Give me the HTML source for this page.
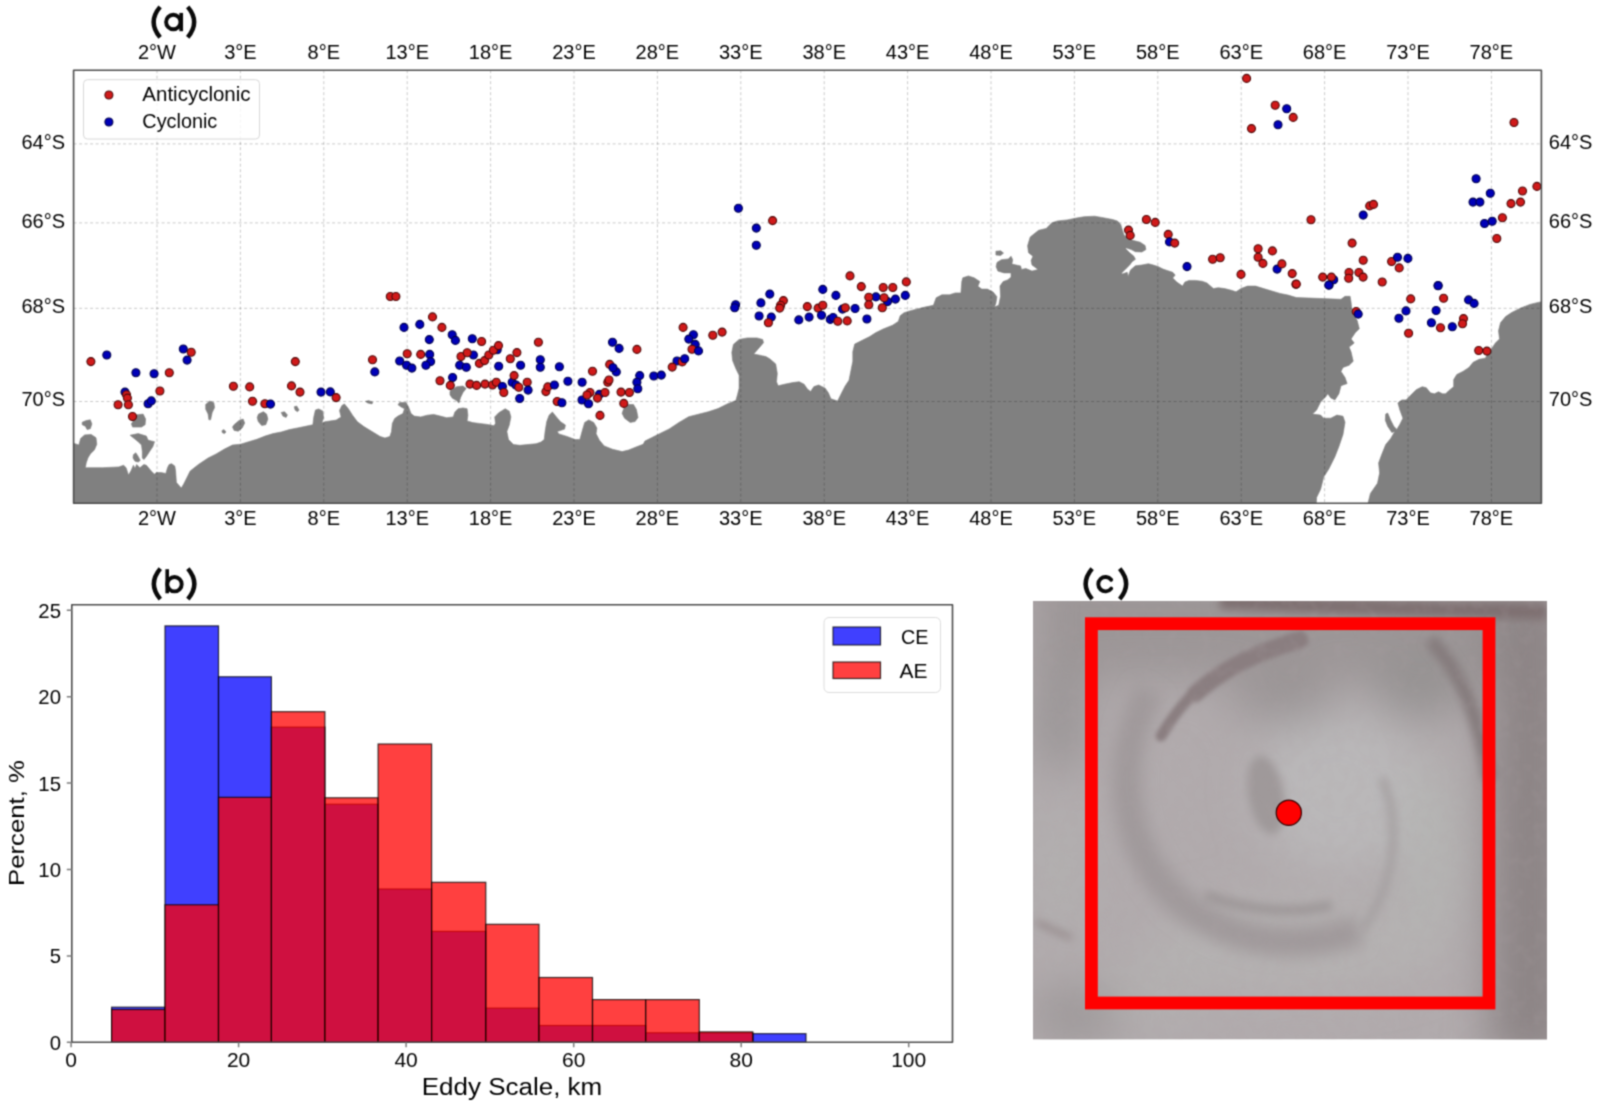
<!DOCTYPE html><html><head><meta charset="utf-8"><style>html,body{margin:0;padding:0;background:#fff;overflow:hidden}svg{display:block}text{font-family:"Liberation Sans",sans-serif;fill:#000}.b{font-weight:bold;fill:#111}</style></head><body>
<div id="w"><svg width="1600" height="1107" viewBox="0 0 1600 1107">
<defs><clipPath id="mc"><rect x="73.6" y="70.2" width="1467.8" height="433.1"/></clipPath>
<filter id="soft" filterUnits="userSpaceOnUse" x="0" y="0" width="1600" height="1107" color-interpolation-filters="sRGB"><feConvolveMatrix order="3" edgeMode="duplicate" kernelMatrix="0.04387 0.12171 0.04387 0.12171 0.33767 0.12171 0.04387 0.12171 0.04387"/></filter>
<clipPath id="cc"><rect x="1033" y="601" width="514" height="438.5"/></clipPath></defs>
<g filter="url(#soft)"><rect x="0" y="0" width="1600" height="1107" fill="#fff"/>
<g clip-path="url(#mc)">
<path d="M73.6 503.5 L73.6 443.4 L74.1 443.4 L78.9 445.0 L80.6 438.5 L84.6 434.9 L91.1 434.4 L96.0 437.7 L96.8 444.2 L94.4 449.9 L90.3 453.9 L87.9 458.0 L86.2 462.9 L85.4 467.7 L102.5 467.7 L118.7 466.9 L123.6 465.3 L126.1 467.7 L128.5 475.1 L130.9 471.0 L133.4 465.3 L135.0 468.6 L136.6 464.5 L139.9 467.7 L143.9 464.5 L146.4 465.3 L151.2 471.0 L154.5 474.2 L156.1 472.6 L161.0 472.6 L165.9 473.4 L167.5 467.7 L169.1 464.5 L171.6 463.7 L174.8 466.1 L175.6 471.0 L176.4 482.4 L181.3 488.1 L183.7 484.0 L190.2 471.0 L198.4 464.5 L208.1 458.0 L216.2 453.9 L224.4 449.1 L232.5 445.0 L240.6 444.2 L248.7 441.7 L256.9 439.3 L265.0 436.1 L273.1 433.6 L281.2 432.0 L289.4 429.6 L297.5 427.9 L305.6 426.3 L312.9 424.7 L313.7 417.4 L315.4 410.1 L318.6 408.9 L322.7 410.9 L323.5 417.4 L321.9 423.1 L324.9 421.7 L336.2 420.1 L341.1 416.9 L339.5 410.4 L341.9 405.5 L344.4 403.9 L348.4 408.7 L352.5 415.2 L357.4 421.7 L363.9 426.6 L372.0 431.5 L380.1 436.4 L385.0 438.0 L389.9 436.4 L391.5 431.5 L392.3 423.4 L394.7 418.5 L398.0 416.1 L402.9 413.6 L404.5 408.7 L401.2 407.1 L398.0 404.7 L399.6 402.6 L406.1 402.6 L408.6 407.1 L411.0 413.6 L414.2 416.1 L420.7 416.9 L427.2 415.2 L433.7 414.4 L440.2 416.1 L446.7 417.7 L453.2 416.9 L454.9 412.0 L458.1 408.7 L463.0 407.9 L467.1 408.7 L467.9 415.2 L467.1 420.9 L472.7 422.6 L479.2 423.4 L485.7 424.2 L490.6 425.0 L493.9 425.8 L495.5 423.4 L494.7 416.9 L498.7 412.8 L505.2 408.7 L509.3 411.2 L510.9 416.9 L509.3 425.0 L506.9 431.5 L508.5 439.6 L513.4 444.5 L519.9 445.3 L528.0 444.5 L536.1 443.7 L541.0 442.1 L544.2 439.6 L545.1 431.5 L546.7 421.7 L549.1 415.2 L552.4 412.0 L556.4 416.9 L560.5 421.7 L565.4 425.0 L564.6 429.1 L557.2 431.5 L558.9 433.9 L567.0 436.4 L575.1 439.6 L579.9 439.4 L582.3 430.5 L584.7 422.4 L588.8 419.9 L593.7 422.4 L596.9 428.1 L596.1 433.7 L599.4 440.2 L604.2 445.9 L612.4 449.2 L622.1 451.6 L628.6 450.0 L636.7 446.7 L643.2 444.3 L644.9 441.1 L651.4 437.8 L659.5 433.7 L669.2 428.9 L679.0 422.4 L688.7 416.7 L698.5 414.2 L708.2 411.8 L718.0 408.6 L727.7 403.7 L735.9 400.4 L737.5 394.7 L739.1 388.2 L739.1 375.2 L735.9 368.7 L732.6 360.6 L731.8 352.5 L733.4 344.4 L739.1 339.5 L747.2 337.9 L757.0 337.9 L762.7 339.5 L763.5 342.7 L758.6 348.4 L753.7 354.1 L758.6 354.9 L765.9 356.6 L770.0 359.0 L775.7 363.9 L777.3 373.6 L776.5 381.7 L778.1 385.8 L784.6 384.2 L792.7 382.6 L799.2 381.7 L804.1 384.2 L807.4 389.1 L810.6 391.5 L813.9 386.6 L818.7 385.0 L825.2 388.2 L828.5 393.1 L830.9 398.8 L837.6 401.0 L842.3 391.5 L845.2 385.9 L849.0 380.2 L850.9 370.7 L852.8 361.2 L852.8 351.7 L854.7 344.1 L862.2 340.3 L869.8 336.5 L875.5 332.8 L883.1 329.0 L892.6 325.2 L898.3 321.4 L900.2 315.7 L904.0 312.8 L909.7 310.9 L917.2 309.0 L924.8 307.1 L933.4 305.3 L936.2 297.7 L941.9 294.8 L949.5 294.8 L955.2 292.9 L960.9 292.9 L961.8 281.5 L962.8 277.8 L968.4 275.9 L974.1 277.8 L979.8 281.5 L977.9 286.3 L981.7 289.1 L987.4 289.1 L993.1 292.0 L996.9 296.7 L995.9 303.4 L995.9 303.4 L994.4 307.0 L998.7 305.2 L1000.5 296.5 L1000.0 286.0 L1003.1 281.6 L1007.5 279.9 L1011.0 277.2 L1011.0 272.9 L1004.0 272.9 L997.9 271.1 L996.1 266.7 L997.0 262.4 L1001.4 259.7 L1008.4 258.9 L1011.0 256.2 L1012.7 259.7 L1011.9 264.1 L1016.2 265.0 L1020.6 265.9 L1021.5 269.4 L1025.9 268.5 L1032.0 271.1 L1038.1 269.4 L1032.0 265.0 L1031.1 260.6 L1032.9 256.2 L1028.5 252.7 L1027.6 245.7 L1030.2 237.0 L1038.6 230.3 L1046.2 228.4 L1051.9 222.8 L1057.6 220.9 L1067.1 219.9 L1076.5 218.0 L1084.1 216.7 L1094.7 216.2 L1104.5 217.9 L1112.6 219.5 L1117.5 221.1 L1120.7 224.4 L1122.4 230.1 L1124.0 234.9 L1128.1 239.0 L1133.7 240.6 L1140.2 242.2 L1145.1 245.5 L1145.9 249.6 L1141.9 252.0 L1135.4 251.7 L1131.3 249.6 L1126.4 247.9 L1125.6 248.7 L1129.7 252.8 L1133.7 256.1 L1135.4 259.3 L1132.1 261.7 L1129.7 265.0 L1126.4 268.2 L1121.6 273.1 L1122.4 273.9 L1127.2 272.3 L1128.1 276.4 L1130.5 269.9 L1135.4 265.8 L1141.9 265.0 L1148.4 263.7 L1153.2 265.0 L1158.1 266.6 L1163.0 269.1 L1167.9 270.7 L1172.7 272.3 L1175.2 275.1 L1172.7 278.0 L1176.8 282.1 L1182.5 286.1 L1184.9 282.1 L1189.0 280.4 L1195.5 280.4 L1202.0 281.2 L1206.9 282.9 L1213.4 288.6 L1218.2 287.7 L1224.7 288.6 L1231.2 290.2 L1236.1 291.8 L1241.0 288.6 L1247.5 286.1 L1255.6 286.1 L1263.7 288.6 L1271.9 291.0 L1280.0 293.4 L1288.1 295.1 L1296.2 297.5 L1341.0 299.3 L1345.0 296.3 L1350.1 296.3 L1351.1 302.4 L1352.1 312.5 L1357.2 320.6 L1359.3 328.8 L1355.2 332.8 L1351.1 338.9 L1354.2 343.0 L1349.1 347.1 L1351.1 352.1 L1353.2 361.3 L1349.1 365.3 L1343.0 367.4 L1341.0 371.4 L1345.0 377.5 L1347.1 383.6 L1341.0 385.7 L1338.9 393.8 L1334.9 399.9 L1330.8 397.9 L1327.8 393.8 L1325.7 396.8 L1320.6 401.9 L1316.6 410.1 L1312.5 414.1 L1320.6 415.1 L1323.7 418.2 L1330.8 418.2 L1336.9 415.1 L1343.0 416.2 L1345.0 422.2 L1343.0 434.4 L1338.9 446.6 L1334.9 456.8 L1328.8 469.0 L1323.7 477.1 L1320.6 489.3 L1316.6 497.4 L1316.2 505.6 Z M1367.4 505.6 L1370.4 493.4 L1377.5 483.2 L1379.6 473.1 L1378.6 462.9 L1381.6 454.8 L1385.7 444.6 L1390.7 438.5 L1394.8 431.4 L1391.8 432.4 L1387.7 426.3 L1385.3 420.2 L1385.7 414.1 L1387.7 413.1 L1390.7 420.2 L1393.8 426.3 L1396.8 429.4 L1399.9 424.3 L1402.9 418.2 L1399.9 410.1 L1397.9 402.9 L1401.9 399.9 L1406.0 399.9 L1412.1 393.8 L1416.2 389.7 L1422.2 386.7 L1426.3 387.7 L1430.4 392.8 L1434.4 393.8 L1438.5 391.8 L1442.6 393.8 L1445.6 393.8 L1448.7 390.7 L1453.7 386.7 L1453.7 379.6 L1456.8 374.5 L1462.9 371.4 L1469.0 367.4 L1473.1 362.3 L1479.1 359.3 L1485.2 358.2 L1491.3 349.1 L1495.4 343.0 L1499.5 338.9 L1498.5 330.8 L1500.5 322.7 L1505.6 316.6 L1511.7 312.5 L1519.8 308.4 L1529.9 304.4 L1538.1 302.4 L1544.2 301.3 L1541.4 301.0 L1541.4 503.5 Z M82.2 422.2 L86.2 420.6 L90.3 419.8 L91.9 423.9 L90.3 428.7 L87.1 429.6 L85.4 426.3 L82.2 424.7 Z M135.8 414.9 L143.1 414.1 L145.6 419.0 L145.1 424.7 L141.5 427.1 L132.6 427.1 L131.4 423.9 L134.2 419.0 Z M130.1 435.2 L138.2 433.6 L146.4 436.1 L148.0 440.1 L151.2 440.9 L154.5 441.7 L152.9 446.6 L149.6 451.5 L146.4 456.4 L143.9 459.6 L142.3 458.0 L142.3 451.5 L141.5 445.0 L138.2 441.7 L134.2 438.5 Z M133.4 454.7 L135.8 452.8 L138.2 456.4 L140.2 460.4 L138.2 462.1 L135.0 461.2 L133.0 458.0 Z M205.7 404.4 L209.7 401.1 L213.8 402.7 L214.6 407.6 L212.2 412.5 L210.6 419.8 L208.9 419.8 L208.1 414.1 L205.7 409.2 Z M221.9 430.7 L224.0 429.6 L226.0 432.0 L224.4 433.6 L222.4 432.8 Z M234.1 424.7 L239.0 420.6 L243.1 419.0 L244.7 423.1 L242.2 427.9 L238.2 431.2 L234.1 430.4 L232.5 427.1 Z M258.5 414.1 L263.4 411.7 L266.6 414.1 L267.9 419.0 L265.8 424.7 L261.7 425.5 L258.2 421.4 L257.2 417.4 Z M281.2 412.5 L284.5 411.7 L287.4 414.9 L286.1 417.4 L282.9 416.1 Z M294.2 406.8 L296.7 406.0 L299.1 410.1 L297.5 411.7 L295.1 410.1 Z M365.5 401.4 L368.7 400.6 L372.8 402.2 L372.0 403.9 L367.9 403.1 Z M450.0 390.9 L456.5 386.8 L463.0 386.0 L466.2 388.4 L463.0 392.5 L460.6 397.4 L458.9 403.1 L456.5 400.6 L452.4 398.2 L450.0 394.9 Z M623.7 408.6 L628.6 404.5 L633.5 404.5 L636.4 409.4 L638.0 417.5 L635.1 421.6 L630.2 422.4 L624.6 418.3 L622.1 413.4 Z M995.9 251.2 L1000.7 250.8 L1003.5 253.1 L1000.7 255.4 L995.9 255.0 Z" fill="#808080" stroke="#808080" stroke-width="0.6" stroke-linejoin="round"/>
<path d="M157.0 70.2 V503.3 M240.4 70.2 V503.3 M323.8 70.2 V503.3 M407.2 70.2 V503.3 M490.6 70.2 V503.3 M574.0 70.2 V503.3 M657.4 70.2 V503.3 M740.8 70.2 V503.3 M824.2 70.2 V503.3 M907.6 70.2 V503.3 M991.0 70.2 V503.3 M1074.4 70.2 V503.3 M1157.8 70.2 V503.3 M1241.2 70.2 V503.3 M1324.6 70.2 V503.3 M1408.0 70.2 V503.3 M1491.4 70.2 V503.3 M73.6 143.9 H1541.4 M73.6 222.9 H1541.4 M73.6 308.3 H1541.4 M73.6 401.5 H1541.4" stroke="#000" stroke-opacity="0.21" stroke-width="1" stroke-dasharray="3 2.5" fill="none"/>
<circle cx="90.9" cy="361.6" r="4" fill="#d01a1a" stroke="#4a0a0a" stroke-width="1.1"/>
<circle cx="106.8" cy="355.0" r="4" fill="#0000b8" stroke="#00004a" stroke-width="1.1"/>
<circle cx="135.9" cy="372.8" r="4" fill="#0000b8" stroke="#00004a" stroke-width="1.1"/>
<circle cx="154.1" cy="373.8" r="4" fill="#0000b8" stroke="#00004a" stroke-width="1.1"/>
<circle cx="169.3" cy="372.8" r="4" fill="#d01a1a" stroke="#4a0a0a" stroke-width="1.1"/>
<circle cx="183.3" cy="349.0" r="4" fill="#0000b8" stroke="#00004a" stroke-width="1.1"/>
<circle cx="191.2" cy="352.2" r="4" fill="#d01a1a" stroke="#4a0a0a" stroke-width="1.1"/>
<circle cx="187.1" cy="360.1" r="4" fill="#0000b8" stroke="#00004a" stroke-width="1.1"/>
<circle cx="159.9" cy="391.0" r="4" fill="#d01a1a" stroke="#4a0a0a" stroke-width="1.1"/>
<circle cx="125.0" cy="392.1" r="4" fill="#0000b8" stroke="#00004a" stroke-width="1.1"/>
<circle cx="126.5" cy="394.8" r="4" fill="#d01a1a" stroke="#4a0a0a" stroke-width="1.1"/>
<circle cx="127.4" cy="398.1" r="4" fill="#d01a1a" stroke="#4a0a0a" stroke-width="1.1"/>
<circle cx="128.4" cy="404.7" r="4" fill="#d01a1a" stroke="#4a0a0a" stroke-width="1.1"/>
<circle cx="118.1" cy="404.7" r="4" fill="#d01a1a" stroke="#4a0a0a" stroke-width="1.1"/>
<circle cx="132.5" cy="416.5" r="4" fill="#d01a1a" stroke="#4a0a0a" stroke-width="1.1"/>
<circle cx="148.1" cy="403.8" r="4" fill="#0000b8" stroke="#00004a" stroke-width="1.1"/>
<circle cx="151.3" cy="400.9" r="4" fill="#0000b8" stroke="#00004a" stroke-width="1.1"/>
<circle cx="233.4" cy="386.3" r="4" fill="#d01a1a" stroke="#4a0a0a" stroke-width="1.1"/>
<circle cx="249.7" cy="386.9" r="4" fill="#d01a1a" stroke="#4a0a0a" stroke-width="1.1"/>
<circle cx="252.5" cy="401.3" r="4" fill="#d01a1a" stroke="#4a0a0a" stroke-width="1.1"/>
<circle cx="264.9" cy="403.8" r="4" fill="#d01a1a" stroke="#4a0a0a" stroke-width="1.1"/>
<circle cx="270.5" cy="404.1" r="4" fill="#0000b8" stroke="#00004a" stroke-width="1.1"/>
<circle cx="295.3" cy="361.6" r="4" fill="#d01a1a" stroke="#4a0a0a" stroke-width="1.1"/>
<circle cx="291.5" cy="385.9" r="4" fill="#d01a1a" stroke="#4a0a0a" stroke-width="1.1"/>
<circle cx="300.0" cy="392.1" r="4" fill="#d01a1a" stroke="#4a0a0a" stroke-width="1.1"/>
<circle cx="321.0" cy="392.1" r="4" fill="#0000b8" stroke="#00004a" stroke-width="1.1"/>
<circle cx="330.3" cy="391.9" r="4" fill="#0000b8" stroke="#00004a" stroke-width="1.1"/>
<circle cx="336.1" cy="397.6" r="4" fill="#d01a1a" stroke="#4a0a0a" stroke-width="1.1"/>
<circle cx="390.3" cy="296.5" r="4" fill="#d01a1a" stroke="#4a0a0a" stroke-width="1.1"/>
<circle cx="395.9" cy="296.5" r="4" fill="#d01a1a" stroke="#4a0a0a" stroke-width="1.1"/>
<circle cx="372.5" cy="359.7" r="4" fill="#d01a1a" stroke="#4a0a0a" stroke-width="1.1"/>
<circle cx="374.8" cy="371.9" r="4" fill="#0000b8" stroke="#00004a" stroke-width="1.1"/>
<circle cx="404.0" cy="327.4" r="4" fill="#0000b8" stroke="#00004a" stroke-width="1.1"/>
<circle cx="419.8" cy="324.4" r="4" fill="#0000b8" stroke="#00004a" stroke-width="1.1"/>
<circle cx="432.5" cy="316.9" r="4" fill="#d01a1a" stroke="#4a0a0a" stroke-width="1.1"/>
<circle cx="441.9" cy="327.4" r="4" fill="#d01a1a" stroke="#4a0a0a" stroke-width="1.1"/>
<circle cx="429.3" cy="339.6" r="4" fill="#0000b8" stroke="#00004a" stroke-width="1.1"/>
<circle cx="452.2" cy="334.8" r="4" fill="#0000b8" stroke="#00004a" stroke-width="1.1"/>
<circle cx="455.4" cy="340.4" r="4" fill="#0000b8" stroke="#00004a" stroke-width="1.1"/>
<circle cx="472.3" cy="338.7" r="4" fill="#0000b8" stroke="#00004a" stroke-width="1.1"/>
<circle cx="481.6" cy="341.5" r="4" fill="#d01a1a" stroke="#4a0a0a" stroke-width="1.1"/>
<circle cx="407.2" cy="353.7" r="4" fill="#d01a1a" stroke="#4a0a0a" stroke-width="1.1"/>
<circle cx="420.7" cy="354.4" r="4" fill="#d01a1a" stroke="#4a0a0a" stroke-width="1.1"/>
<circle cx="429.7" cy="354.4" r="4" fill="#0000b8" stroke="#00004a" stroke-width="1.1"/>
<circle cx="430.6" cy="361.6" r="4" fill="#0000b8" stroke="#00004a" stroke-width="1.1"/>
<circle cx="425.9" cy="365.3" r="4" fill="#0000b8" stroke="#00004a" stroke-width="1.1"/>
<circle cx="399.7" cy="361.0" r="4" fill="#0000b8" stroke="#00004a" stroke-width="1.1"/>
<circle cx="406.6" cy="365.3" r="4" fill="#0000b8" stroke="#00004a" stroke-width="1.1"/>
<circle cx="411.9" cy="368.1" r="4" fill="#0000b8" stroke="#00004a" stroke-width="1.1"/>
<circle cx="473.4" cy="355.0" r="4" fill="#0000b8" stroke="#00004a" stroke-width="1.1"/>
<circle cx="461.0" cy="356.5" r="4" fill="#d01a1a" stroke="#4a0a0a" stroke-width="1.1"/>
<circle cx="467.2" cy="352.8" r="4" fill="#d01a1a" stroke="#4a0a0a" stroke-width="1.1"/>
<circle cx="459.7" cy="365.3" r="4" fill="#0000b8" stroke="#00004a" stroke-width="1.1"/>
<circle cx="466.3" cy="367.2" r="4" fill="#0000b8" stroke="#00004a" stroke-width="1.1"/>
<circle cx="497.2" cy="349.8" r="4" fill="#0000b8" stroke="#00004a" stroke-width="1.1"/>
<circle cx="479.4" cy="363.4" r="4" fill="#d01a1a" stroke="#4a0a0a" stroke-width="1.1"/>
<circle cx="484.6" cy="360.6" r="4" fill="#d01a1a" stroke="#4a0a0a" stroke-width="1.1"/>
<circle cx="488.8" cy="355.0" r="4" fill="#d01a1a" stroke="#4a0a0a" stroke-width="1.1"/>
<circle cx="493.4" cy="350.3" r="4" fill="#d01a1a" stroke="#4a0a0a" stroke-width="1.1"/>
<circle cx="498.5" cy="345.6" r="4" fill="#d01a1a" stroke="#4a0a0a" stroke-width="1.1"/>
<circle cx="498.7" cy="366.3" r="4" fill="#0000b8" stroke="#00004a" stroke-width="1.1"/>
<circle cx="510.3" cy="358.8" r="4" fill="#d01a1a" stroke="#4a0a0a" stroke-width="1.1"/>
<circle cx="516.9" cy="352.6" r="4" fill="#d01a1a" stroke="#4a0a0a" stroke-width="1.1"/>
<circle cx="520.6" cy="365.3" r="4" fill="#0000b8" stroke="#00004a" stroke-width="1.1"/>
<circle cx="538.4" cy="342.3" r="4" fill="#d01a1a" stroke="#4a0a0a" stroke-width="1.1"/>
<circle cx="540.3" cy="359.7" r="4" fill="#0000b8" stroke="#00004a" stroke-width="1.1"/>
<circle cx="540.3" cy="367.2" r="4" fill="#0000b8" stroke="#00004a" stroke-width="1.1"/>
<circle cx="559.4" cy="366.8" r="4" fill="#0000b8" stroke="#00004a" stroke-width="1.1"/>
<circle cx="612.5" cy="342.3" r="4" fill="#0000b8" stroke="#00004a" stroke-width="1.1"/>
<circle cx="619.1" cy="348.4" r="4" fill="#0000b8" stroke="#00004a" stroke-width="1.1"/>
<circle cx="636.9" cy="349.4" r="4" fill="#d01a1a" stroke="#4a0a0a" stroke-width="1.1"/>
<circle cx="440.0" cy="380.7" r="4" fill="#d01a1a" stroke="#4a0a0a" stroke-width="1.1"/>
<circle cx="452.6" cy="377.5" r="4" fill="#0000b8" stroke="#00004a" stroke-width="1.1"/>
<circle cx="450.3" cy="385.4" r="4" fill="#d01a1a" stroke="#4a0a0a" stroke-width="1.1"/>
<circle cx="470.0" cy="384.1" r="4" fill="#d01a1a" stroke="#4a0a0a" stroke-width="1.1"/>
<circle cx="476.6" cy="385.4" r="4" fill="#d01a1a" stroke="#4a0a0a" stroke-width="1.1"/>
<circle cx="485.0" cy="384.1" r="4" fill="#d01a1a" stroke="#4a0a0a" stroke-width="1.1"/>
<circle cx="492.5" cy="385.0" r="4" fill="#d01a1a" stroke="#4a0a0a" stroke-width="1.1"/>
<circle cx="496.3" cy="382.2" r="4" fill="#d01a1a" stroke="#4a0a0a" stroke-width="1.1"/>
<circle cx="502.4" cy="386.5" r="4" fill="#0000b8" stroke="#00004a" stroke-width="1.1"/>
<circle cx="503.8" cy="392.5" r="4" fill="#d01a1a" stroke="#4a0a0a" stroke-width="1.1"/>
<circle cx="512.2" cy="382.2" r="4" fill="#0000b8" stroke="#00004a" stroke-width="1.1"/>
<circle cx="515.9" cy="385.0" r="4" fill="#0000b8" stroke="#00004a" stroke-width="1.1"/>
<circle cx="514.1" cy="375.6" r="4" fill="#d01a1a" stroke="#4a0a0a" stroke-width="1.1"/>
<circle cx="518.8" cy="387.3" r="4" fill="#d01a1a" stroke="#4a0a0a" stroke-width="1.1"/>
<circle cx="527.2" cy="382.2" r="4" fill="#d01a1a" stroke="#4a0a0a" stroke-width="1.1"/>
<circle cx="528.1" cy="390.1" r="4" fill="#0000b8" stroke="#00004a" stroke-width="1.1"/>
<circle cx="519.7" cy="398.5" r="4" fill="#0000b8" stroke="#00004a" stroke-width="1.1"/>
<circle cx="545.9" cy="391.6" r="4" fill="#d01a1a" stroke="#4a0a0a" stroke-width="1.1"/>
<circle cx="547.8" cy="386.9" r="4" fill="#d01a1a" stroke="#4a0a0a" stroke-width="1.1"/>
<circle cx="554.4" cy="385.0" r="4" fill="#0000b8" stroke="#00004a" stroke-width="1.1"/>
<circle cx="567.9" cy="381.3" r="4" fill="#0000b8" stroke="#00004a" stroke-width="1.1"/>
<circle cx="582.1" cy="382.2" r="4" fill="#0000b8" stroke="#00004a" stroke-width="1.1"/>
<circle cx="592.5" cy="371.3" r="4" fill="#d01a1a" stroke="#4a0a0a" stroke-width="1.1"/>
<circle cx="616.3" cy="371.9" r="4" fill="#0000b8" stroke="#00004a" stroke-width="1.1"/>
<circle cx="609.7" cy="364.4" r="4" fill="#d01a1a" stroke="#4a0a0a" stroke-width="1.1"/>
<circle cx="607.8" cy="382.2" r="4" fill="#d01a1a" stroke="#4a0a0a" stroke-width="1.1"/>
<circle cx="599.4" cy="394.4" r="4" fill="#0000b8" stroke="#00004a" stroke-width="1.1"/>
<circle cx="590.0" cy="392.5" r="4" fill="#d01a1a" stroke="#4a0a0a" stroke-width="1.1"/>
<circle cx="597.5" cy="398.1" r="4" fill="#d01a1a" stroke="#4a0a0a" stroke-width="1.1"/>
<circle cx="605.0" cy="392.5" r="4" fill="#d01a1a" stroke="#4a0a0a" stroke-width="1.1"/>
<circle cx="582.0" cy="400.0" r="4" fill="#0000b8" stroke="#00004a" stroke-width="1.1"/>
<circle cx="588.5" cy="403.8" r="4" fill="#0000b8" stroke="#00004a" stroke-width="1.1"/>
<circle cx="557.2" cy="401.5" r="4" fill="#d01a1a" stroke="#4a0a0a" stroke-width="1.1"/>
<circle cx="561.9" cy="402.8" r="4" fill="#0000b8" stroke="#00004a" stroke-width="1.1"/>
<circle cx="600.0" cy="415.4" r="4" fill="#d01a1a" stroke="#4a0a0a" stroke-width="1.1"/>
<circle cx="621.0" cy="392.1" r="4" fill="#d01a1a" stroke="#4a0a0a" stroke-width="1.1"/>
<circle cx="629.4" cy="392.5" r="4" fill="#d01a1a" stroke="#4a0a0a" stroke-width="1.1"/>
<circle cx="623.8" cy="403.4" r="4" fill="#d01a1a" stroke="#4a0a0a" stroke-width="1.1"/>
<circle cx="639.7" cy="375.6" r="4" fill="#0000b8" stroke="#00004a" stroke-width="1.1"/>
<circle cx="636.9" cy="382.2" r="4" fill="#0000b8" stroke="#00004a" stroke-width="1.1"/>
<circle cx="637.8" cy="388.8" r="4" fill="#0000b8" stroke="#00004a" stroke-width="1.1"/>
<circle cx="653.8" cy="376.0" r="4" fill="#0000b8" stroke="#00004a" stroke-width="1.1"/>
<circle cx="661.3" cy="375.1" r="4" fill="#0000b8" stroke="#00004a" stroke-width="1.1"/>
<circle cx="738.4" cy="208.2" r="4" fill="#0000b8" stroke="#00004a" stroke-width="1.1"/>
<circle cx="772.6" cy="220.6" r="4" fill="#d01a1a" stroke="#4a0a0a" stroke-width="1.1"/>
<circle cx="756.3" cy="228.1" r="4" fill="#0000b8" stroke="#00004a" stroke-width="1.1"/>
<circle cx="756.3" cy="245.3" r="4" fill="#0000b8" stroke="#00004a" stroke-width="1.1"/>
<circle cx="735.6" cy="304.8" r="4" fill="#0000b8" stroke="#00004a" stroke-width="1.1"/>
<circle cx="734.7" cy="307.8" r="4" fill="#0000b8" stroke="#00004a" stroke-width="1.1"/>
<circle cx="769.8" cy="294.1" r="4" fill="#0000b8" stroke="#00004a" stroke-width="1.1"/>
<circle cx="760.9" cy="302.9" r="4" fill="#0000b8" stroke="#00004a" stroke-width="1.1"/>
<circle cx="783.4" cy="300.6" r="4" fill="#d01a1a" stroke="#4a0a0a" stroke-width="1.1"/>
<circle cx="780.6" cy="305.3" r="4" fill="#d01a1a" stroke="#4a0a0a" stroke-width="1.1"/>
<circle cx="779.7" cy="308.1" r="4" fill="#d01a1a" stroke="#4a0a0a" stroke-width="1.1"/>
<circle cx="759.1" cy="316.0" r="4" fill="#0000b8" stroke="#00004a" stroke-width="1.1"/>
<circle cx="771.3" cy="317.1" r="4" fill="#0000b8" stroke="#00004a" stroke-width="1.1"/>
<circle cx="768.4" cy="322.8" r="4" fill="#d01a1a" stroke="#4a0a0a" stroke-width="1.1"/>
<circle cx="683.1" cy="327.4" r="4" fill="#d01a1a" stroke="#4a0a0a" stroke-width="1.1"/>
<circle cx="693.4" cy="334.8" r="4" fill="#0000b8" stroke="#00004a" stroke-width="1.1"/>
<circle cx="688.8" cy="339.1" r="4" fill="#0000b8" stroke="#00004a" stroke-width="1.1"/>
<circle cx="712.8" cy="335.3" r="4" fill="#d01a1a" stroke="#4a0a0a" stroke-width="1.1"/>
<circle cx="722.1" cy="332.1" r="4" fill="#d01a1a" stroke="#4a0a0a" stroke-width="1.1"/>
<circle cx="798.8" cy="319.9" r="4" fill="#0000b8" stroke="#00004a" stroke-width="1.1"/>
<circle cx="809.1" cy="317.1" r="4" fill="#0000b8" stroke="#00004a" stroke-width="1.1"/>
<circle cx="807.3" cy="306.6" r="4" fill="#d01a1a" stroke="#4a0a0a" stroke-width="1.1"/>
<circle cx="818.1" cy="308.1" r="4" fill="#d01a1a" stroke="#4a0a0a" stroke-width="1.1"/>
<circle cx="822.8" cy="305.3" r="4" fill="#d01a1a" stroke="#4a0a0a" stroke-width="1.1"/>
<circle cx="822.8" cy="289.4" r="4" fill="#0000b8" stroke="#00004a" stroke-width="1.1"/>
<circle cx="821.5" cy="315.3" r="4" fill="#0000b8" stroke="#00004a" stroke-width="1.1"/>
<circle cx="835.9" cy="295.4" r="4" fill="#0000b8" stroke="#00004a" stroke-width="1.1"/>
<circle cx="830.3" cy="319.4" r="4" fill="#0000b8" stroke="#00004a" stroke-width="1.1"/>
<circle cx="833.1" cy="317.5" r="4" fill="#0000b8" stroke="#00004a" stroke-width="1.1"/>
<circle cx="837.8" cy="321.3" r="4" fill="#d01a1a" stroke="#4a0a0a" stroke-width="1.1"/>
<circle cx="847.2" cy="320.9" r="4" fill="#d01a1a" stroke="#4a0a0a" stroke-width="1.1"/>
<circle cx="842.5" cy="309.1" r="4" fill="#0000b8" stroke="#00004a" stroke-width="1.1"/>
<circle cx="845.3" cy="307.8" r="4" fill="#d01a1a" stroke="#4a0a0a" stroke-width="1.1"/>
<circle cx="855.1" cy="308.5" r="4" fill="#0000b8" stroke="#00004a" stroke-width="1.1"/>
<circle cx="850.0" cy="275.9" r="4" fill="#d01a1a" stroke="#4a0a0a" stroke-width="1.1"/>
<circle cx="861.3" cy="286.6" r="4" fill="#d01a1a" stroke="#4a0a0a" stroke-width="1.1"/>
<circle cx="875.9" cy="296.9" r="4" fill="#0000b8" stroke="#00004a" stroke-width="1.1"/>
<circle cx="868.8" cy="297.3" r="4" fill="#d01a1a" stroke="#4a0a0a" stroke-width="1.1"/>
<circle cx="868.8" cy="304.8" r="4" fill="#d01a1a" stroke="#4a0a0a" stroke-width="1.1"/>
<circle cx="883.2" cy="287.5" r="4" fill="#d01a1a" stroke="#4a0a0a" stroke-width="1.1"/>
<circle cx="892.8" cy="287.5" r="4" fill="#d01a1a" stroke="#4a0a0a" stroke-width="1.1"/>
<circle cx="887.5" cy="301.6" r="4" fill="#0000b8" stroke="#00004a" stroke-width="1.1"/>
<circle cx="884.1" cy="297.8" r="4" fill="#d01a1a" stroke="#4a0a0a" stroke-width="1.1"/>
<circle cx="882.3" cy="307.8" r="4" fill="#d01a1a" stroke="#4a0a0a" stroke-width="1.1"/>
<circle cx="895.4" cy="299.1" r="4" fill="#0000b8" stroke="#00004a" stroke-width="1.1"/>
<circle cx="905.3" cy="295.4" r="4" fill="#0000b8" stroke="#00004a" stroke-width="1.1"/>
<circle cx="906.3" cy="281.9" r="4" fill="#d01a1a" stroke="#4a0a0a" stroke-width="1.1"/>
<circle cx="866.9" cy="319.0" r="4" fill="#0000b8" stroke="#00004a" stroke-width="1.1"/>
<circle cx="1146.4" cy="219.5" r="4" fill="#d01a1a" stroke="#4a0a0a" stroke-width="1.1"/>
<circle cx="1155.2" cy="222.4" r="4" fill="#d01a1a" stroke="#4a0a0a" stroke-width="1.1"/>
<circle cx="1128.5" cy="230.1" r="4" fill="#d01a1a" stroke="#4a0a0a" stroke-width="1.1"/>
<circle cx="1130.2" cy="235.4" r="4" fill="#d01a1a" stroke="#4a0a0a" stroke-width="1.1"/>
<circle cx="1168.2" cy="234.4" r="4" fill="#d01a1a" stroke="#4a0a0a" stroke-width="1.1"/>
<circle cx="1169.5" cy="241.9" r="4" fill="#0000b8" stroke="#00004a" stroke-width="1.1"/>
<circle cx="1174.7" cy="243.1" r="4" fill="#d01a1a" stroke="#4a0a0a" stroke-width="1.1"/>
<circle cx="1187.0" cy="266.6" r="4" fill="#0000b8" stroke="#00004a" stroke-width="1.1"/>
<circle cx="1212.6" cy="259.3" r="4" fill="#d01a1a" stroke="#4a0a0a" stroke-width="1.1"/>
<circle cx="1220.2" cy="257.7" r="4" fill="#d01a1a" stroke="#4a0a0a" stroke-width="1.1"/>
<circle cx="1241.0" cy="274.4" r="4" fill="#d01a1a" stroke="#4a0a0a" stroke-width="1.1"/>
<circle cx="1258.1" cy="248.7" r="4" fill="#d01a1a" stroke="#4a0a0a" stroke-width="1.1"/>
<circle cx="1258.1" cy="257.2" r="4" fill="#d01a1a" stroke="#4a0a0a" stroke-width="1.1"/>
<circle cx="1262.9" cy="263.4" r="4" fill="#d01a1a" stroke="#4a0a0a" stroke-width="1.1"/>
<circle cx="1272.4" cy="250.9" r="4" fill="#d01a1a" stroke="#4a0a0a" stroke-width="1.1"/>
<circle cx="1277.1" cy="269.1" r="4" fill="#0000b8" stroke="#00004a" stroke-width="1.1"/>
<circle cx="1281.9" cy="263.9" r="4" fill="#d01a1a" stroke="#4a0a0a" stroke-width="1.1"/>
<circle cx="1292.2" cy="273.6" r="4" fill="#d01a1a" stroke="#4a0a0a" stroke-width="1.1"/>
<circle cx="1295.9" cy="284.2" r="4" fill="#d01a1a" stroke="#4a0a0a" stroke-width="1.1"/>
<circle cx="1311.0" cy="219.7" r="4" fill="#d01a1a" stroke="#4a0a0a" stroke-width="1.1"/>
<circle cx="1363.2" cy="215.1" r="4" fill="#0000b8" stroke="#00004a" stroke-width="1.1"/>
<circle cx="1369.7" cy="205.9" r="4" fill="#d01a1a" stroke="#4a0a0a" stroke-width="1.1"/>
<circle cx="1373.5" cy="204.4" r="4" fill="#d01a1a" stroke="#4a0a0a" stroke-width="1.1"/>
<circle cx="1352.1" cy="243.1" r="4" fill="#d01a1a" stroke="#4a0a0a" stroke-width="1.1"/>
<circle cx="1363.2" cy="260.2" r="4" fill="#d01a1a" stroke="#4a0a0a" stroke-width="1.1"/>
<circle cx="1391.6" cy="261.5" r="4" fill="#d01a1a" stroke="#4a0a0a" stroke-width="1.1"/>
<circle cx="1397.5" cy="257.2" r="4" fill="#0000b8" stroke="#00004a" stroke-width="1.1"/>
<circle cx="1407.9" cy="258.4" r="4" fill="#0000b8" stroke="#00004a" stroke-width="1.1"/>
<circle cx="1399.2" cy="267.9" r="4" fill="#d01a1a" stroke="#4a0a0a" stroke-width="1.1"/>
<circle cx="1333.7" cy="279.8" r="4" fill="#0000b8" stroke="#00004a" stroke-width="1.1"/>
<circle cx="1329.1" cy="285.0" r="4" fill="#0000b8" stroke="#00004a" stroke-width="1.1"/>
<circle cx="1322.7" cy="277.1" r="4" fill="#d01a1a" stroke="#4a0a0a" stroke-width="1.1"/>
<circle cx="1331.4" cy="277.1" r="4" fill="#d01a1a" stroke="#4a0a0a" stroke-width="1.1"/>
<circle cx="1349.0" cy="272.5" r="4" fill="#d01a1a" stroke="#4a0a0a" stroke-width="1.1"/>
<circle cx="1348.7" cy="278.3" r="4" fill="#d01a1a" stroke="#4a0a0a" stroke-width="1.1"/>
<circle cx="1358.9" cy="272.5" r="4" fill="#d01a1a" stroke="#4a0a0a" stroke-width="1.1"/>
<circle cx="1363.1" cy="277.1" r="4" fill="#d01a1a" stroke="#4a0a0a" stroke-width="1.1"/>
<circle cx="1382.2" cy="282.0" r="4" fill="#d01a1a" stroke="#4a0a0a" stroke-width="1.1"/>
<circle cx="1438.1" cy="285.5" r="4" fill="#0000b8" stroke="#00004a" stroke-width="1.1"/>
<circle cx="1476.1" cy="178.8" r="4" fill="#0000b8" stroke="#00004a" stroke-width="1.1"/>
<circle cx="1490.3" cy="193.2" r="4" fill="#0000b8" stroke="#00004a" stroke-width="1.1"/>
<circle cx="1473.0" cy="202.1" r="4" fill="#0000b8" stroke="#00004a" stroke-width="1.1"/>
<circle cx="1479.9" cy="202.1" r="4" fill="#0000b8" stroke="#00004a" stroke-width="1.1"/>
<circle cx="1484.5" cy="223.5" r="4" fill="#0000b8" stroke="#00004a" stroke-width="1.1"/>
<circle cx="1492.2" cy="221.2" r="4" fill="#0000b8" stroke="#00004a" stroke-width="1.1"/>
<circle cx="1502.4" cy="217.7" r="4" fill="#d01a1a" stroke="#4a0a0a" stroke-width="1.1"/>
<circle cx="1496.8" cy="238.5" r="4" fill="#d01a1a" stroke="#4a0a0a" stroke-width="1.1"/>
<circle cx="1511.0" cy="203.6" r="4" fill="#d01a1a" stroke="#4a0a0a" stroke-width="1.1"/>
<circle cx="1520.5" cy="202.1" r="4" fill="#d01a1a" stroke="#4a0a0a" stroke-width="1.1"/>
<circle cx="1522.5" cy="191.0" r="4" fill="#d01a1a" stroke="#4a0a0a" stroke-width="1.1"/>
<circle cx="1536.9" cy="186.4" r="4" fill="#d01a1a" stroke="#4a0a0a" stroke-width="1.1"/>
<circle cx="1296.3" cy="284.1" r="4" fill="#d01a1a" stroke="#4a0a0a" stroke-width="1.1"/>
<circle cx="1328.8" cy="285.1" r="4" fill="#0000b8" stroke="#00004a" stroke-width="1.1"/>
<circle cx="1356.2" cy="311.5" r="4" fill="#d01a1a" stroke="#4a0a0a" stroke-width="1.1"/>
<circle cx="1358.2" cy="314.1" r="4" fill="#0000b8" stroke="#00004a" stroke-width="1.1"/>
<circle cx="1398.9" cy="318.2" r="4" fill="#0000b8" stroke="#00004a" stroke-width="1.1"/>
<circle cx="1406.0" cy="310.9" r="4" fill="#0000b8" stroke="#00004a" stroke-width="1.1"/>
<circle cx="1410.7" cy="298.9" r="4" fill="#d01a1a" stroke="#4a0a0a" stroke-width="1.1"/>
<circle cx="1438.1" cy="285.7" r="4" fill="#0000b8" stroke="#00004a" stroke-width="1.1"/>
<circle cx="1443.6" cy="298.3" r="4" fill="#d01a1a" stroke="#4a0a0a" stroke-width="1.1"/>
<circle cx="1436.1" cy="310.5" r="4" fill="#0000b8" stroke="#00004a" stroke-width="1.1"/>
<circle cx="1431.4" cy="322.7" r="4" fill="#0000b8" stroke="#00004a" stroke-width="1.1"/>
<circle cx="1440.5" cy="327.8" r="4" fill="#d01a1a" stroke="#4a0a0a" stroke-width="1.1"/>
<circle cx="1452.3" cy="326.7" r="4" fill="#0000b8" stroke="#00004a" stroke-width="1.1"/>
<circle cx="1463.5" cy="318.6" r="4" fill="#d01a1a" stroke="#4a0a0a" stroke-width="1.1"/>
<circle cx="1462.5" cy="323.7" r="4" fill="#d01a1a" stroke="#4a0a0a" stroke-width="1.1"/>
<circle cx="1468.6" cy="299.9" r="4" fill="#0000b8" stroke="#00004a" stroke-width="1.1"/>
<circle cx="1474.1" cy="303.4" r="4" fill="#0000b8" stroke="#00004a" stroke-width="1.1"/>
<circle cx="1408.6" cy="333.2" r="4" fill="#d01a1a" stroke="#4a0a0a" stroke-width="1.1"/>
<circle cx="1478.7" cy="350.5" r="4" fill="#d01a1a" stroke="#4a0a0a" stroke-width="1.1"/>
<circle cx="1486.9" cy="351.1" r="4" fill="#d01a1a" stroke="#4a0a0a" stroke-width="1.1"/>
<circle cx="1246.6" cy="78.4" r="4" fill="#d01a1a" stroke="#4a0a0a" stroke-width="1.1"/>
<circle cx="1275.2" cy="105.2" r="4" fill="#d01a1a" stroke="#4a0a0a" stroke-width="1.1"/>
<circle cx="1286.7" cy="108.8" r="4" fill="#0000b8" stroke="#00004a" stroke-width="1.1"/>
<circle cx="1293.2" cy="117.4" r="4" fill="#d01a1a" stroke="#4a0a0a" stroke-width="1.1"/>
<circle cx="1278.0" cy="124.7" r="4" fill="#0000b8" stroke="#00004a" stroke-width="1.1"/>
<circle cx="1251.5" cy="128.6" r="4" fill="#d01a1a" stroke="#4a0a0a" stroke-width="1.1"/>
<circle cx="695.2" cy="344.4" r="4" fill="#0000b8" stroke="#00004a" stroke-width="1.1"/>
<circle cx="692.0" cy="349.2" r="4" fill="#d01a1a" stroke="#4a0a0a" stroke-width="1.1"/>
<circle cx="698.5" cy="350.9" r="4" fill="#0000b8" stroke="#00004a" stroke-width="1.1"/>
<circle cx="677.0" cy="361.0" r="4" fill="#0000b8" stroke="#00004a" stroke-width="1.1"/>
<circle cx="682.2" cy="361.9" r="4" fill="#d01a1a" stroke="#4a0a0a" stroke-width="1.1"/>
<circle cx="684.7" cy="358.7" r="4" fill="#0000b8" stroke="#00004a" stroke-width="1.1"/>
<circle cx="672.2" cy="367.1" r="4" fill="#d01a1a" stroke="#4a0a0a" stroke-width="1.1"/>
<circle cx="613.0" cy="367.8" r="4" fill="#0000b8" stroke="#00004a" stroke-width="1.1"/>
<circle cx="609.0" cy="380.0" r="4" fill="#d01a1a" stroke="#4a0a0a" stroke-width="1.1"/>
<circle cx="587.0" cy="395.0" r="4" fill="#d01a1a" stroke="#4a0a0a" stroke-width="1.1"/>
<circle cx="1514.0" cy="122.5" r="4" fill="#d01a1a" stroke="#4a0a0a" stroke-width="1.1"/>
</g>
<rect x="73.6" y="70.2" width="1467.8" height="433.1" fill="none" stroke="#4c4c4c" stroke-width="1.6" stroke-linejoin="round"/>
<rect x="83.5" y="79.7" width="176" height="59.3" rx="4" fill="#fff" fill-opacity="0.8" stroke="#d8d8d8" stroke-width="1"/>
<circle cx="108.9" cy="95" r="4" fill="#d01a1a" stroke="#4a0a0a" stroke-width="1.1"/>
<circle cx="108.9" cy="122" r="4" fill="#0000b8" stroke="#00004a" stroke-width="1.1"/>
<text x="142.3" y="101.3" font-size="20" textLength="108.3" lengthAdjust="spacingAndGlyphs">Anticyclonic</text>
<text x="142.3" y="128" font-size="20" textLength="75" lengthAdjust="spacingAndGlyphs">Cyclonic</text>
<text x="157.0" y="59.3" font-size="20" text-anchor="middle">2°W</text>
<text x="157.0" y="525" font-size="20" text-anchor="middle">2°W</text>
<text x="240.4" y="59.3" font-size="20" text-anchor="middle">3°E</text>
<text x="240.4" y="525" font-size="20" text-anchor="middle">3°E</text>
<text x="323.8" y="59.3" font-size="20" text-anchor="middle">8°E</text>
<text x="323.8" y="525" font-size="20" text-anchor="middle">8°E</text>
<text x="407.2" y="59.3" font-size="20" text-anchor="middle">13°E</text>
<text x="407.2" y="525" font-size="20" text-anchor="middle">13°E</text>
<text x="490.6" y="59.3" font-size="20" text-anchor="middle">18°E</text>
<text x="490.6" y="525" font-size="20" text-anchor="middle">18°E</text>
<text x="574.0" y="59.3" font-size="20" text-anchor="middle">23°E</text>
<text x="574.0" y="525" font-size="20" text-anchor="middle">23°E</text>
<text x="657.4" y="59.3" font-size="20" text-anchor="middle">28°E</text>
<text x="657.4" y="525" font-size="20" text-anchor="middle">28°E</text>
<text x="740.8" y="59.3" font-size="20" text-anchor="middle">33°E</text>
<text x="740.8" y="525" font-size="20" text-anchor="middle">33°E</text>
<text x="824.2" y="59.3" font-size="20" text-anchor="middle">38°E</text>
<text x="824.2" y="525" font-size="20" text-anchor="middle">38°E</text>
<text x="907.6" y="59.3" font-size="20" text-anchor="middle">43°E</text>
<text x="907.6" y="525" font-size="20" text-anchor="middle">43°E</text>
<text x="991.0" y="59.3" font-size="20" text-anchor="middle">48°E</text>
<text x="991.0" y="525" font-size="20" text-anchor="middle">48°E</text>
<text x="1074.4" y="59.3" font-size="20" text-anchor="middle">53°E</text>
<text x="1074.4" y="525" font-size="20" text-anchor="middle">53°E</text>
<text x="1157.8" y="59.3" font-size="20" text-anchor="middle">58°E</text>
<text x="1157.8" y="525" font-size="20" text-anchor="middle">58°E</text>
<text x="1241.2" y="59.3" font-size="20" text-anchor="middle">63°E</text>
<text x="1241.2" y="525" font-size="20" text-anchor="middle">63°E</text>
<text x="1324.6" y="59.3" font-size="20" text-anchor="middle">68°E</text>
<text x="1324.6" y="525" font-size="20" text-anchor="middle">68°E</text>
<text x="1408.0" y="59.3" font-size="20" text-anchor="middle">73°E</text>
<text x="1408.0" y="525" font-size="20" text-anchor="middle">73°E</text>
<text x="1491.4" y="59.3" font-size="20" text-anchor="middle">78°E</text>
<text x="1491.4" y="525" font-size="20" text-anchor="middle">78°E</text>
<text x="65" y="148.5" font-size="20" text-anchor="end">64°S</text>
<text x="1548.8" y="148.5" font-size="20">64°S</text>
<text x="65" y="227.5" font-size="20" text-anchor="end">66°S</text>
<text x="1548.8" y="227.5" font-size="20">66°S</text>
<text x="65" y="312.9" font-size="20" text-anchor="end">68°S</text>
<text x="1548.8" y="312.9" font-size="20">68°S</text>
<text x="65" y="406.1" font-size="20" text-anchor="end">70°S</text>
<text x="1548.8" y="406.1" font-size="20">70°S</text>
<g fill="none" stroke="#0a0a0a" stroke-width="3.9"><g stroke-width="4.4"><path d="M160.1 6.8 Q147.2 22.0 160.1 37.3"/><path d="M187.7 6.8 Q200.6 22.0 187.7 37.3"/></g><circle cx="173.3" cy="22.0" r="7.20"/><path d="M181.2 12.9 V31.2" stroke-width="3.7"/></g>
<rect x="111.6" y="1007.2" width="53.4" height="35.1" fill="#0000ff" fill-opacity="0.75" stroke="#000" stroke-opacity="0.75" stroke-width="1.2"/>
<rect x="165.0" y="625.9" width="53.5" height="416.4" fill="#0000ff" fill-opacity="0.75" stroke="#000" stroke-opacity="0.75" stroke-width="1.2"/>
<rect x="218.5" y="676.8" width="52.9" height="365.5" fill="#0000ff" fill-opacity="0.75" stroke="#000" stroke-opacity="0.75" stroke-width="1.2"/>
<rect x="271.4" y="727.1" width="53.5" height="315.2" fill="#0000ff" fill-opacity="0.75" stroke="#000" stroke-opacity="0.75" stroke-width="1.2"/>
<rect x="324.9" y="804.2" width="53.2" height="238.1" fill="#0000ff" fill-opacity="0.75" stroke="#000" stroke-opacity="0.75" stroke-width="1.2"/>
<rect x="378.1" y="889.0" width="53.5" height="153.3" fill="#0000ff" fill-opacity="0.75" stroke="#000" stroke-opacity="0.75" stroke-width="1.2"/>
<rect x="431.6" y="931.4" width="54.2" height="110.9" fill="#0000ff" fill-opacity="0.75" stroke="#000" stroke-opacity="0.75" stroke-width="1.2"/>
<rect x="485.8" y="1008.1" width="53.2" height="34.2" fill="#0000ff" fill-opacity="0.75" stroke="#000" stroke-opacity="0.75" stroke-width="1.2"/>
<rect x="539.0" y="1025.5" width="53.5" height="16.8" fill="#0000ff" fill-opacity="0.75" stroke="#000" stroke-opacity="0.75" stroke-width="1.2"/>
<rect x="592.5" y="1025.5" width="53.2" height="16.8" fill="#0000ff" fill-opacity="0.75" stroke="#000" stroke-opacity="0.75" stroke-width="1.2"/>
<rect x="645.7" y="1032.8" width="53.6" height="9.5" fill="#0000ff" fill-opacity="0.75" stroke="#000" stroke-opacity="0.75" stroke-width="1.2"/>
<rect x="699.3" y="1032.8" width="53.5" height="9.5" fill="#0000ff" fill-opacity="0.75" stroke="#000" stroke-opacity="0.75" stroke-width="1.2"/>
<rect x="752.8" y="1033.7" width="53.2" height="8.6" fill="#0000ff" fill-opacity="0.75" stroke="#000" stroke-opacity="0.75" stroke-width="1.2"/>
<rect x="111.6" y="1009.5" width="53.4" height="32.8" fill="#ff0000" fill-opacity="0.75" stroke="#000" stroke-opacity="0.75" stroke-width="1.2"/>
<rect x="165.0" y="904.8" width="53.5" height="137.5" fill="#ff0000" fill-opacity="0.75" stroke="#000" stroke-opacity="0.75" stroke-width="1.2"/>
<rect x="218.5" y="797.3" width="52.9" height="245.0" fill="#ff0000" fill-opacity="0.75" stroke="#000" stroke-opacity="0.75" stroke-width="1.2"/>
<rect x="271.4" y="711.7" width="53.5" height="330.6" fill="#ff0000" fill-opacity="0.75" stroke="#000" stroke-opacity="0.75" stroke-width="1.2"/>
<rect x="324.9" y="797.8" width="53.2" height="244.5" fill="#ff0000" fill-opacity="0.75" stroke="#000" stroke-opacity="0.75" stroke-width="1.2"/>
<rect x="378.1" y="744.0" width="53.5" height="298.3" fill="#ff0000" fill-opacity="0.75" stroke="#000" stroke-opacity="0.75" stroke-width="1.2"/>
<rect x="431.6" y="882.3" width="54.2" height="160.0" fill="#ff0000" fill-opacity="0.75" stroke="#000" stroke-opacity="0.75" stroke-width="1.2"/>
<rect x="485.8" y="924.3" width="53.2" height="118.0" fill="#ff0000" fill-opacity="0.75" stroke="#000" stroke-opacity="0.75" stroke-width="1.2"/>
<rect x="539.0" y="977.5" width="53.5" height="64.8" fill="#ff0000" fill-opacity="0.75" stroke="#000" stroke-opacity="0.75" stroke-width="1.2"/>
<rect x="592.5" y="999.6" width="53.2" height="42.7" fill="#ff0000" fill-opacity="0.75" stroke="#000" stroke-opacity="0.75" stroke-width="1.2"/>
<rect x="645.7" y="999.6" width="53.6" height="42.7" fill="#ff0000" fill-opacity="0.75" stroke="#000" stroke-opacity="0.75" stroke-width="1.2"/>
<rect x="699.3" y="1031.9" width="53.5" height="10.4" fill="#ff0000" fill-opacity="0.75" stroke="#000" stroke-opacity="0.75" stroke-width="1.2"/>
<rect x="71.8" y="604.8" width="880.7" height="437.5" fill="none" stroke="#4c4c4c" stroke-width="1.6" stroke-linejoin="round"/>
<text x="61" y="1049.7" font-size="21" text-anchor="end" textLength="11.3" lengthAdjust="spacingAndGlyphs">0</text>
<text x="61" y="963.3" font-size="21" text-anchor="end" textLength="11.3" lengthAdjust="spacingAndGlyphs">5</text>
<text x="61" y="876.9" font-size="21" text-anchor="end" textLength="22.7" lengthAdjust="spacingAndGlyphs">10</text>
<text x="61" y="790.5" font-size="21" text-anchor="end" textLength="22.7" lengthAdjust="spacingAndGlyphs">15</text>
<text x="61" y="704.1" font-size="21" text-anchor="end" textLength="22.7" lengthAdjust="spacingAndGlyphs">20</text>
<text x="61" y="617.7" font-size="21" text-anchor="end" textLength="22.7" lengthAdjust="spacingAndGlyphs">25</text>
<text x="71.1" y="1066.8" font-size="21" text-anchor="middle">0</text>
<text x="238.6" y="1066.8" font-size="21" text-anchor="middle">20</text>
<text x="406.1" y="1066.8" font-size="21" text-anchor="middle">40</text>
<text x="573.7" y="1066.8" font-size="21" text-anchor="middle">60</text>
<text x="741.2" y="1066.8" font-size="21" text-anchor="middle">80</text>
<text x="908.7" y="1066.8" font-size="21" text-anchor="middle">100</text>
<path d="M66.8 1042.3 H71.8 M66.8 955.9 H71.8 M66.8 869.5 H71.8 M66.8 783.1 H71.8 M66.8 696.7 H71.8 M66.8 610.3 H71.8 M71.1 1042.3 V1047.3 M238.6 1042.3 V1047.3 M406.1 1042.3 V1047.3 M573.7 1042.3 V1047.3 M741.2 1042.3 V1047.3 M908.7 1042.3 V1047.3" stroke="#7c7c7c" stroke-width="1.5"/>
<text x="421.7" y="1094.8" font-size="23" textLength="180.6" lengthAdjust="spacingAndGlyphs">Eddy Scale, km</text>
<text transform="translate(24,886) rotate(-90)" x="0" y="0" font-size="22.5" textLength="126" lengthAdjust="spacingAndGlyphs">Percent, %</text>
<rect x="824" y="617.5" width="116.5" height="75" rx="5" fill="#fff" fill-opacity="0.8" stroke="#dcdcdc" stroke-width="1"/>
<rect x="833" y="627" width="47.5" height="18" fill="#0000ff" fill-opacity="0.75" stroke="#000" stroke-opacity="0.75" stroke-width="1.2"/>
<rect x="833" y="662" width="47.5" height="16.5" fill="#ff0000" fill-opacity="0.75" stroke="#000" stroke-opacity="0.75" stroke-width="1.2"/>
<text x="901" y="643.5" font-size="21" textLength="27.5" lengthAdjust="spacingAndGlyphs">CE</text>
<text x="899.5" y="678" font-size="21" textLength="28" lengthAdjust="spacingAndGlyphs">AE</text>
<g fill="none" stroke="#0a0a0a" stroke-width="3.9"><g stroke-width="4.4"><path d="M160.3 568.6 Q147.4 583.9 160.3 599.1"/><path d="M187.9 568.6 Q200.8 583.9 187.9 599.1"/></g><circle cx="174.5" cy="584.2" r="7.20"/><path d="M167.2 569.2 V593.3" stroke-width="3.6"/></g>
<filter id="bc1" filterUnits="userSpaceOnUse" x="1000" y="560" width="600" height="520"><feGaussianBlur stdDeviation="8"/></filter>
<filter id="bc2" filterUnits="userSpaceOnUse" x="1000" y="560" width="600" height="520"><feGaussianBlur stdDeviation="4"/></filter>
<filter id="bc3" filterUnits="userSpaceOnUse" x="1000" y="560" width="600" height="520"><feGaussianBlur stdDeviation="2"/></filter>
<filter id="nz" x="0" y="0" width="100%" height="100%"><feTurbulence type="fractalNoise" baseFrequency="0.09" numOctaves="2" seed="3" result="t"/><feColorMatrix type="matrix" values="0 0 0 0 0.45  0 0 0 0 0.38  0 0 0 0 0.40  0 0 0 -1.1 0.62"/></filter>
<filter id="bc4" filterUnits="userSpaceOnUse" x="1000" y="560" width="600" height="520"><feGaussianBlur stdDeviation="22"/></filter>
<g clip-path="url(#cc)">
<rect x="1033" y="601" width="514" height="438.5" fill="#b1abad"/>
<g filter="url(#bc4)">
<rect x="1033" y="560" width="520" height="120" fill="#9c9697"/>
<rect x="1490" y="600" width="80" height="460" fill="#8c8485"/>
<ellipse cx="1340" cy="790" rx="85" ry="80" fill="#bab8b9"/>
<ellipse cx="1300" cy="945" rx="150" ry="45" fill="#b5b2b2"/>
<ellipse cx="1430" cy="850" rx="30" ry="90" fill="#b5b5b4"/>
<ellipse cx="1060" cy="870" rx="25" ry="70" fill="#b2b0b0"/>
<ellipse cx="1150" cy="990" rx="60" ry="30" fill="#b3b0b0"/>
<ellipse cx="1420" cy="680" rx="50" ry="40" fill="#969393"/>
<ellipse cx="1060" cy="715" rx="28" ry="60" fill="#9a9596"/>
<ellipse cx="1075" cy="1015" rx="45" ry="30" fill="#9e999a"/>
<ellipse cx="1285" cy="700" rx="55" ry="22" fill="#9a9495"/>
</g>
<g filter="url(#bc1)" fill="none">
<path d="M1150 690 C1110 760 1120 860 1190 910 C1240 945 1300 950 1360 930" stroke="#a09a9b" stroke-width="30"/>
</g>
<g filter="url(#bc2)" fill="none">
<path d="M1220 601 C1300 606 1400 608 1547 612" stroke="#7e7071" stroke-width="16"/>
<path d="M1205 895 C1250 912 1300 914 1332 905" stroke="#9d9798" stroke-width="10"/>
<path d="M1382 778 C1400 820 1398 880 1362 930" stroke="#a6a1a2" stroke-width="8"/>
<ellipse cx="1266" cy="795" rx="18" ry="40" fill="#9f999a" transform="rotate(-10 1266 795)"/>
<path d="M1430 640 C1460 670 1480 720 1490 780" stroke="#857b7d" stroke-width="14"/>
<path d="M1036 922 C1048 928 1058 932 1072 938" stroke="#8a7b7d" stroke-width="4"/>
</g>
<g filter="url(#bc3)" fill="none" stroke="#8a7e80" stroke-linecap="round">
<path d="M1161 736 C1175 712 1195 688 1222 670 C1240 659 1262 648 1300 636" stroke-width="11"/>
<path d="M1195 694 C1222 670 1255 652 1300 640" stroke-width="17"/>
</g>
<rect x="1033" y="601" width="514" height="438.5" filter="url(#nz)" opacity="0.3"/>
</g>
<rect x="1091.4" y="623.7" width="397.6" height="379.3" fill="none" stroke="#ff0000" stroke-width="12.8"/>
<circle cx="1288.8" cy="812.7" r="12.6" fill="#ff0000" stroke="#300" stroke-width="1.2"/>
<g fill="none" stroke="#0a0a0a" stroke-width="3.9"><g stroke-width="4.4"><path d="M1092.1 568.6 Q1079.2 583.9 1092.1 599.1"/><path d="M1119.7 568.6 Q1132.6 583.9 1119.7 599.1"/></g><path d="M1111.17 579.77 A7.20 7.20 0 1 0 1111.17 588.63" stroke-linecap="round"/></g>
</g></svg></div></body></html>
